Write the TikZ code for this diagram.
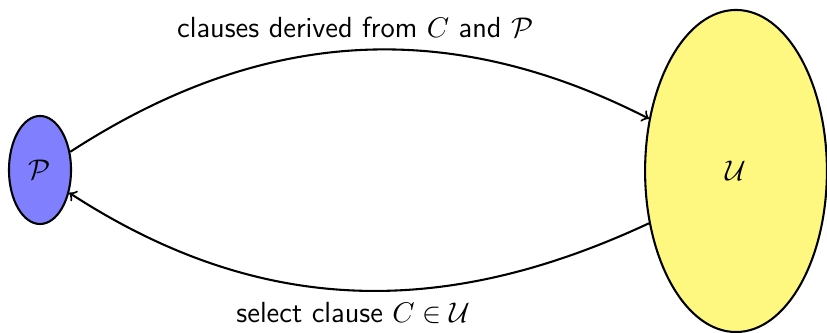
\documentclass[tikz,border=0pt]{standalone}
\usetikzlibrary{shapes.geometric}
\renewcommand{\familydefault}{\sfdefault}
\begin{document}
\begin{tikzpicture}[x=0.385pt,y=-0.385pt,
  blob/.style={ellipse,draw,line width=0.8pt,inner sep=0pt,font=\fontsize{11.2}{13}\selectfont},
  conn/.style={->,line width=0.8pt},
  lbl/.style={font=\fontsize{11.2}{13}\selectfont}]
\useasboundingbox (0,0) rectangle (827,333);
\node[blob,fill=blue!50,minimum width=23.9pt,minimum height=41.6pt] (p) at (40,170) {$\mathcal{P}$};
\node[blob,fill=yellow!50,minimum width=70pt,minimum height=124pt] (u) at (736,171) {$\mathcal{U}$};
\draw[conn] (p.31) to[out=33,in=153] node[lbl,above=1pt] {clauses derived from $C$ and $\mathcal{P}$} (u.149);
\draw[conn] (u.211) to[out=205,in=327] node[lbl,below=1pt] {select clause $C\in\mathcal{U}$} (p.322);
\end{tikzpicture}
\end{document}
